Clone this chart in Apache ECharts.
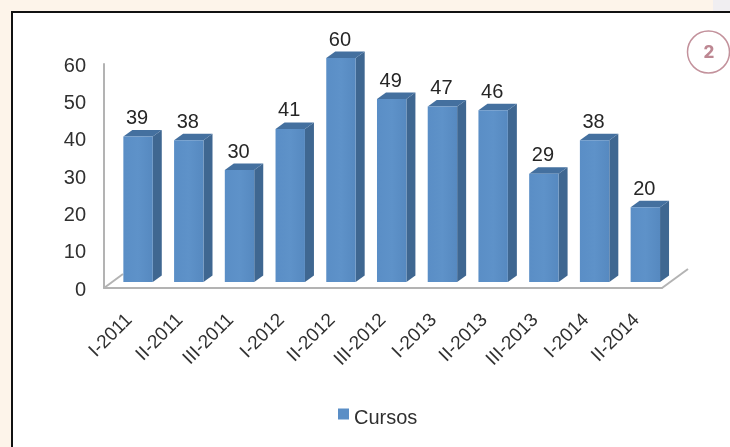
<!DOCTYPE html>
<html><head><meta charset="utf-8">
<style>html,body{margin:0;padding:0;background:#fff}#c{width:730px;height:447px}</style>
<script src="https://cdn.jsdelivr.net/npm/echarts@6/dist/echarts.min.js"></script>
</head><body><div id="c"></div>
<script>
const categories = ['I-2011','II-2011','III-2011','I-2012','II-2012','III-2012','I-2013','II-2013','III-2013','I-2014','II-2014'];
const cursos = [39,38,30,41,60,49,47,46,29,38,20];
const seriesName = 'Cursos';
const yMax = 60, yStep = 10;

const FONT = '"Liberation Sans", Arial, sans-serif';
const chart = echarts.init(document.getElementById('c'));
function renderBar(params, api) {
  const i = api.value(0), v = api.value(1);
  const band = api.size([1, 0])[0];
  const c0 = api.coord([i, 0]), c1 = api.coord([i, v]);
  const w = band * 0.58, cx = c0[0] + 8.7, lift = 6, dx = 9, dy = 6.5;
  const l = cx - w / 2, r = cx + w / 2, b = c0[1] - lift, t = c1[1] - lift;
  const children = [];
  const lineStyle = {stroke: '#b3b3b3', lineWidth: 2, fill: null};
  if (i === 0) children.push({type:'line', shape:{x1:c0[0]-band/2, y1:c0[1], x2:c0[0]-band/2+19, y2:c0[1]-14}, style:lineStyle});
  if (i === categories.length - 1) children.push({type:'line', shape:{x1:c0[0]+band/2, y1:c0[1], x2:c0[0]+band/2+26, y2:c0[1]-19}, style:lineStyle});
  children.push(
    {type:'polygon', shape:{points:[[r,b],[r+dx,b-dy],[r+dx,t-dy],[r,t]]}, style:{fill:'#3f6791'}},
    {type:'polygon', shape:{points:[[l,t],[l+dx,t-dy],[r+dx,t-dy],[r,t]]}, style:{fill:'#44709f'}},
    {type:'rect', shape:{x:l, y:t, width:w, height:b-t}, style:{fill:new echarts.graphic.LinearGradient(0,0,1,0,[
      {offset:0,color:'#5a8ec6'},{offset:0.5,color:'#5e92c9'},{offset:1,color:'#5689c0'}])}},
    {type:'text', x:cx-1, y:t-18, style:{text:String(v), fill:'#262626', font:'20px '+FONT, align:'center', verticalAlign:'middle'}}
  );
  return {type:'group', children};
}
chart.setOption({
  animation:false,
  backgroundColor:'#fff',
  graphic:{elements:[
    {type:'rect', z:-10, shape:{x:0,y:0,width:730,height:447}, style:{fill:'#fdf4ea'}},
    {type:'rect', z:-10, shape:{x:713,y:0,width:17,height:11}, style:{fill:'#f0eef1'}},
    {type:'rect', z:-9, shape:{x:11,y:11,width:719,height:436}, style:{fill:'#111'}},
    {type:'rect', z:-8, shape:{x:13,y:13,width:717,height:434}, style:{fill:'#fff'}},
    {type:'circle', z:5, shape:{cx:708.5,cy:52,r:21}, style:{fill:'#fff',stroke:'#c3929c',lineWidth:1.5}},
    {type:'text', z:6, x:709, y:53, style:{text:'2', fill:'#bd8792', fontFamily:'Inter, sans-serif', fontWeight:800, fontSize:17, align:'center', verticalAlign:'middle'}}
  ]},
  legend:{data:[{name:seriesName,icon:'rect'}], left:333, top:403.5, itemWidth:11, itemHeight:11, itemGap:4,
    formatter:'{a|{name}}',
    textStyle:{rich:{a:{color:'#303030', fontSize:20, fontFamily:FONT, padding:[9,0,0,0]}}}, selectedMode:false},
  grid:{left:104, top:64, width:558, height:224},
  xAxis:{type:'category', data:categories,
    axisLine:{lineStyle:{color:'#b3b3b3',width:2}}, axisTick:{show:false},
    axisLabel:{rotate:45, interval:0, margin:29, color:'#303030', fontSize:19, fontFamily:FONT}},
  yAxis:{type:'value', min:0, max:yMax, interval:yStep,
    axisLine:{show:true,lineStyle:{color:'#b3b3b3',width:2}}, axisTick:{show:false}, splitLine:{show:false},
    axisLabel:{margin:18, color:'#303030', fontSize:20, fontFamily:FONT, verticalAlign:'top', lineHeight:4}},
  series:[{name:seriesName, type:'custom', renderItem:renderBar, clip:false,
    itemStyle:{color:'#5a8ec6'}, encode:{x:0,y:1},
    data:cursos.map((v,i)=>[i,v])}]
});
</script></body></html>
